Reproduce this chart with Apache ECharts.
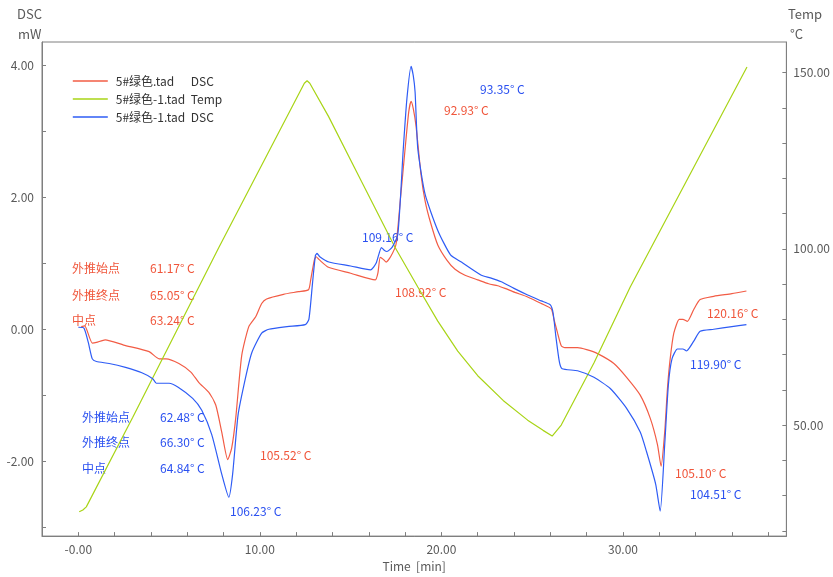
<!DOCTYPE html>
<html>
<head>
<meta charset="utf-8">
<script src="https://cdn.jsdelivr.net/npm/echarts@6/dist/echarts.min.js"></script>
<style>
  html, body { margin: 0; padding: 0; background: #fff; }
  #main { width: 833px; height: 577px; }
</style>
</head>
<body>
<div id="main"></div>
<script>
// series names (legend)
var names = ['5#绿色.tad DSC', '5#绿色-1.tad Temp', '5#绿色-1.tad DSC'];

// 5#绿色.tad DSC  [time min, mW]
var dscA = [
  [0.16, 0.04], [0.35, 0.05], [0.77, -0.21], [1.0, -0.2], [1.48, -0.16], [2.5, -0.24],
  [3.9, -0.34], [4.45, -0.45], [4.83, -0.45], [5.54, -0.52], [6.2, -0.65], [6.64, -0.81],
  [7.19, -0.96], [7.57, -1.15], [7.9, -1.56], [8.23, -1.98], [8.45, -1.8], [8.67, -1.35],
  [9.0, -0.40], [9.39, 0.04], [9.77, 0.19], [10.1, 0.39], [10.37, 0.46], [11.3, 0.53],
  [12.13, 0.57], [12.68, 0.60], [12.8, 0.75], [13.0, 1.05], [13.1, 1.10], [13.25, 1.06],
  [13.78, 0.94], [15.0, 0.85], [16.36, 0.75], [16.5, 0.85], [16.63, 1.09], [16.8, 1.06],
  [16.95, 1.02], [17.2, 1.1], [17.5, 1.29], [17.75, 2.0], [18.0, 2.74], [18.2, 3.3],
  [18.33, 3.46], [18.45, 3.35], [18.6, 3.09], [18.88, 2.34], [19.1, 1.95], [19.4, 1.62],
  [19.8, 1.28], [20.3, 1.05], [20.75, 0.91], [21.3, 0.82], [22.0, 0.75], [22.6, 0.69],
  [23.1, 0.66], [23.5, 0.62], [24.04, 0.56], [24.75, 0.49], [25.5, 0.39], [26.05, 0.31],
  [26.2, 0.15], [26.4, -0.06], [26.6, -0.25], [26.8, -0.28], [27.5, -0.28], [28.0, -0.31],
  [28.6, -0.37], [29.5, -0.52], [30.2, -0.73], [30.95, -1.0], [31.5, -1.35], [31.9, -1.75],
  [32.1, -2.08], [32.3, -1.56], [32.45, -0.9], [32.6, -0.45], [32.8, -0.06], [33.1, 0.15],
  [33.3, 0.15], [33.55, 0.12], [33.9, 0.30], [34.25, 0.45], [35.0, 0.50], [36.0, 0.54],
  [36.8, 0.58]
];

// 5#绿色-1.tad Temp  [time min, °C]
var tempB = [
  [0.05, 25.4], [0.25, 25.9], [0.44, 26.8], [3.0, 52.2], [7.74, 100.4], [12.45, 147.0],
  [12.6, 147.7], [12.75, 147.0], [13.78, 137.6], [15.6, 119.1], [17.45, 100.4], [18.7, 89.2],
  [19.8, 79.5], [20.9, 71.0], [22.0, 64.0], [23.4, 57.0], [24.75, 51.4], [25.6, 48.5],
  [26.1, 46.9], [26.6, 50.0], [28.4, 67.6], [30.4, 89.2], [36.83, 151.6]
];

// 5#绿色-1.tad DSC  [time min, mW]
var dscB = [
  [0.0, 0.03], [0.3, 0.02], [0.55, -0.2], [0.77, -0.45], [1.0, -0.49], [1.7, -0.52],
  [2.6, -0.58], [3.5, -0.66], [4.1, -0.75], [4.3, -0.82], [5.0, -0.82], [5.5, -0.88],
  [6.3, -1.05], [6.8, -1.23], [7.35, -1.6], [7.9, -2.2], [8.29, -2.55], [8.5, -2.2],
  [8.8, -1.3], [9.2, -0.75], [9.55, -0.36], [10.1, -0.06], [10.5, 0.0], [11.5, 0.04],
  [12.5, 0.07], [12.7, 0.15], [12.9, 0.7], [13.06, 1.12], [13.15, 1.15], [13.3, 1.1],
  [13.8, 1.02], [15.0, 0.96], [16.1, 0.90], [16.4, 1.0], [16.7, 1.24], [16.85, 1.2],
  [17.0, 1.18], [17.3, 1.25], [17.6, 1.44], [17.9, 2.74], [18.1, 3.5], [18.33, 3.99],
  [18.45, 3.85], [18.55, 3.6], [18.7, 2.74], [19.1, 2.05], [19.8, 1.5], [20.5, 1.13],
  [21.1, 1.02], [22.2, 0.82], [22.7, 0.78], [23.3, 0.72], [24.0, 0.62], [24.75, 0.52],
  [25.5, 0.43], [26.0, 0.37], [26.15, 0.25], [26.3, -0.1], [26.5, -0.5], [26.65, -0.6],
  [27.5, -0.63], [28.4, -0.73], [29.3, -0.9], [30.2, -1.2], [30.95, -1.56], [31.3, -1.86],
  [31.8, -2.35], [32.05, -2.76], [32.3, -1.75], [32.5, -0.85], [32.7, -0.45], [33.0, -0.3],
  [33.3, -0.3], [33.5, -0.33], [33.9, -0.18], [34.25, -0.03], [35.0, 0.0], [36.0, 0.04],
  [36.8, 0.07]
];

// axis ticks / labels
var xTicks = [0, 2, 4, 6, 8, 10, 12, 14, 16, 18, 20, 22, 24, 26, 28, 30, 32, 34, 36, 38];
var xLabels = [0, 10, 20, 30];
var dscTicks = [-3, -2, -1, 0, 1, 2, 3, 4];
var dscLabels = [-2, 0, 2, 4];
var tempTicks = [20, 30, 40, 50, 60, 70, 80, 90, 100, 110, 120, 130, 140, 150];
var tempLabels = [50, 100, 150];

// evaluation texts
var RED = '#f25c45', BLUE = '#2e5cf5', GREEN = '#a8d416';
var redText = '#f0553a', blueText = '#2a50f0';
var notes = [
  ['外推始点', 72, 270, redText], ['61.17° C', 150, 270, redText],
  ['外推终点', 72, 297, redText], ['65.05° C', 150, 297, redText],
  ['中点', 72, 322, redText], ['63.24° C', 150, 322, redText],
  ['外推始点', 82, 419, blueText], ['62.48° C', 160, 419, blueText],
  ['外推终点', 82, 444, blueText], ['66.30° C', 160, 444, blueText],
  ['中点', 82, 470, blueText], ['64.84° C', 160, 470, blueText],
  ['105.52° C', 260, 457, redText],
  ['106.23° C', 230, 513, blueText],
  ['109.16° C', 362, 239, blueText],
  ['108.92° C', 395, 294, redText],
  ['93.35° C', 480, 91, blueText],
  ['92.93° C', 444, 112, redText],
  ['120.16° C', 707, 315, redText],
  ['119.90° C', 690, 366, blueText],
  ['105.10° C', 675, 475, redText],
  ['104.51° C', 690, 496, blueText]
];

var FONT = '"Noto Sans CJK SC", "Noto Sans", sans-serif';
var AXIS = '#7f7f7f';
var chart = echarts.init(document.getElementById('main'));

var graphics = notes.map(function (n) {
  return {
    type: 'text', left: n[1], top: n[2] - 8,
    style: { text: n[0], fill: n[3], font: '12px ' + FONT }
  };
});
graphics.push(
  { type: 'text', left: 17, top: 8, style: { text: 'DSC', fill: '#595959', font: '13px ' + FONT } },
  { type: 'text', left: 18, top: 28, style: { text: 'mW', fill: '#595959', font: '13px ' + FONT } },
  { type: 'text', left: 788, top: 8, style: { text: 'Temp', fill: '#595959', font: '13px ' + FONT } },
  { type: 'text', left: 790, top: 28, style: { text: '°C', fill: '#595959', font: '13px ' + FONT } }
);

var option = {
  animation: false,
  textStyle: { fontFamily: FONT },
  grid: { left: 42, right: 44, top: 42, bottom: 34, show: true, borderColor: AXIS, borderWidth: 1 },
  legend: {
    data: names, orient: 'vertical', left: 72, top: 75, padding: 0,
    itemWidth: 35, itemHeight: 12, itemGap: 6,
    itemStyle: { opacity: 0 },
    lineStyle: { width: 1.6 },
    textStyle: {
      fontSize: 12, color: '#333',
      rich: { a: { width: 75, padding: [0, 0, 0, 3], fontSize: 12, color: '#333' }, b: { fontSize: 12, color: '#333' } }
    },
    formatter: function (n) {
      var i = n.lastIndexOf(' ');
      return '{a|' + n.slice(0, i) + '}{b|' + n.slice(i + 1) + '}';
    }
  },
  graphic: graphics,
  xAxis: {
    type: 'value', min: -2, max: 39,
    name: 'Time  [min]', nameLocation: 'middle', nameGap: 21,
    nameTextStyle: { color: '#595959', fontSize: 12 },
    axisLine: { onZero: false, lineStyle: { color: AXIS } },
    axisTick: { inside: true, length: 4, customValues: xTicks, lineStyle: { color: AXIS } },
    axisLabel: {
      customValues: xLabels, color: '#595959', fontSize: 12, margin: 7,
      formatter: function (v) { return v === 0 ? '-0.00' : v.toFixed(2); }
    },
    splitLine: { show: false }
  },
  yAxis: [{
    type: 'value', min: -3.14, max: 4.36, position: 'left',
    axisLine: { show: true, onZero: false, lineStyle: { color: AXIS } },
    axisTick: { show: true, inside: true, length: 4, customValues: dscTicks, lineStyle: { color: AXIS } },
    axisLabel: {
      customValues: dscLabels, color: '#595959', fontSize: 12, margin: 8,
      formatter: function (v) { return v.toFixed(2); }
    },
    splitLine: { show: false }
  }, {
    type: 'value', min: 18.5, max: 158.7, position: 'right',
    axisLine: { show: true, onZero: false, lineStyle: { color: AXIS } },
    axisTick: { show: true, inside: true, length: 4, customValues: tempTicks, lineStyle: { color: AXIS } },
    axisLabel: {
      customValues: tempLabels, color: '#595959', fontSize: 12, margin: 7,
      formatter: function (v) { return v.toFixed(2); }
    },
    splitLine: { show: false }
  }],
  series: [{
    name: names[0], type: 'line', data: dscA, yAxisIndex: 0,
    symbol: 'none', smooth: 0.2,
    color: RED, lineStyle: { width: 1.2, color: RED }
  }, {
    name: names[1], type: 'line', data: tempB, yAxisIndex: 1,
    symbol: 'none',
    color: GREEN, lineStyle: { width: 1.2, color: GREEN }
  }, {
    name: names[2], type: 'line', data: dscB, yAxisIndex: 0,
    symbol: 'none', smooth: 0.2,
    color: BLUE, lineStyle: { width: 1.2, color: BLUE }
  }]
};
chart.setOption(option);
</script>
</body>
</html>
